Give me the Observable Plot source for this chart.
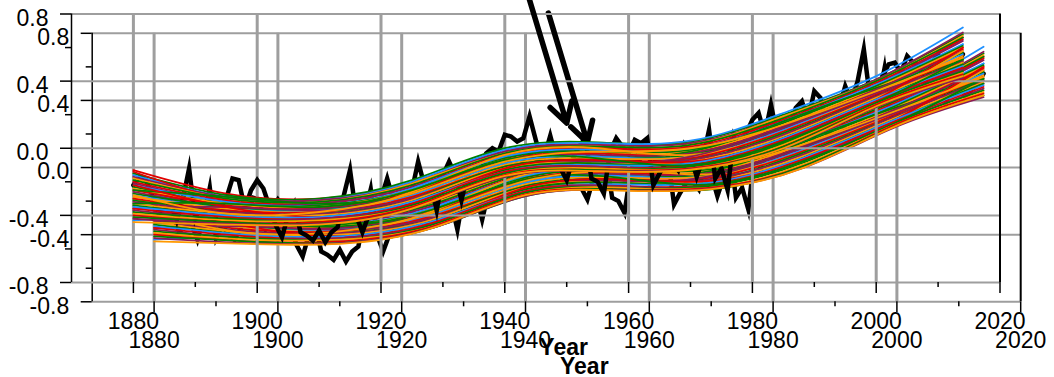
<!DOCTYPE html>
<html><head><meta charset="utf-8">
<script src="https://cdn.jsdelivr.net/npm/d3@7"></script>
<script src="https://cdn.jsdelivr.net/npm/@observablehq/plot@0.6"></script>
<style>
html,body{margin:0;padding:0;background:#fff;}
#chart svg{display:block;}
</style>
</head><body><div id="chart"></div>
<script>
// ---- data ----
const firstYear = 1880;
const anomaly = [
 -0.22,-0.17,-0.19,-0.28,-0.38,-0.36,-0.33,-0.43,-0.30,-0.12,
 -0.42,-0.34,-0.40,-0.43,-0.36,-0.30,-0.18,-0.19,-0.36,-0.25,
 -0.19,-0.24,-0.35,-0.46,-0.53,-0.40,-0.33,-0.50,-0.52,-0.55,
 -0.49,-0.56,-0.50,-0.47,-0.28,-0.13,-0.40,-0.50,-0.40,-0.32,
 -0.30,-0.18,-0.31,-0.30,-0.33,-0.25,-0.08,-0.22,-0.21,-0.37,
 -0.16,-0.08,-0.16,-0.31,-0.15,-0.20,-0.15,-0.03,0.00,-0.02,
 0.08,0.07,0.04,0.06,0.19,0.05,-0.08,-0.10,-0.12,-0.12,
 -0.19,-0.06,0.01,0.06,-0.18,-0.20,-0.27,-0.02,0.06,0.01,
 -0.03,0.05,0.03,0.06,-0.22,-0.15,-0.09,-0.08,-0.13,0.02,
 -0.04,-0.17,-0.06,0.11,-0.18,-0.12,-0.25,0.07,-0.01,0.09,
 0.17,0.21,0.08,0.26,0.08,0.05,0.11,0.24,0.28,0.17,
 0.34,0.30,0.14,0.17,0.24,0.37,0.28,0.40,0.59,0.30,
 0.29,0.43,0.50,0.51,0.45,0.55,0.51,0.49,0.39,0.51,
 0.56,0.42,0.46,0.50,0.56
];
const bundleYears = [1880, 1895, 1910, 1925, 1940, 1955, 1970, 1985, 2000, 2014];
const bundleColors = [
 "#e00000","#008000","#1e90ff","#8b1a55","#e00000","#ff9900","#008000","#e00000","#8b1a55","#1e90ff",
 "#1e90ff","#008000","#ff9900","#e00000","#008000","#8b1a55","#008000","#1e90ff","#ff9900","#ff9900",
 "#e00000","#008000","#8b1a55","#8b1a55","#ff9900","#008000","#e00000","#1e90ff","#e00000","#8b1a55",
 "#008000","#008000","#ff9900","#e00000","#008000","#8b1a55","#ff9900","#ff9900"
];
const bundleValues = [
 [-0.13,-0.27,-0.30,-0.20,-0.02,0.02,0.03,0.17,0.37,0.60],
 [-0.15,-0.28,-0.30,-0.19,0.00,0.035,0.04,0.20,0.41,0.68],
 [-0.16,-0.29,-0.31,-0.20,-0.01,0.03,0.045,0.21,0.43,0.72],
 [-0.17,-0.29,-0.31,-0.21,-0.02,0.02,0.03,0.19,0.41,0.69],
 [-0.14,-0.31,-0.36,-0.27,-0.06,0.00,-0.02,0.12,0.36,0.66],
 [-0.18,-0.30,-0.32,-0.21,-0.03,0.01,0.02,0.19,0.40,0.67],
 [-0.19,-0.30,-0.32,-0.22,-0.03,0.01,0.02,0.18,0.40,0.66],
 [-0.20,-0.31,-0.33,-0.23,-0.04,0.00,0.01,0.17,0.39,0.65],
 [-0.21,-0.32,-0.33,-0.23,-0.05,-0.01,0.00,0.16,0.38,0.64],
 [-0.43,-0.40,-0.36,-0.24,-0.05,-0.04,-0.06,0.08,0.33,0.62],
 [-0.22,-0.32,-0.34,-0.24,-0.05,-0.01,-0.01,0.16,0.38,0.62],
 [-0.23,-0.33,-0.34,-0.25,-0.06,-0.02,-0.01,0.15,0.37,0.61],
 [-0.24,-0.33,-0.35,-0.25,-0.07,-0.03,-0.02,0.14,0.36,0.60],
 [-0.25,-0.34,-0.36,-0.26,-0.07,-0.03,-0.03,0.13,0.35,0.59],
 [-0.25,-0.29,-0.33,-0.28,-0.12,-0.06,-0.02,0.16,0.36,0.52],
 [-0.26,-0.35,-0.36,-0.27,-0.08,-0.04,-0.03,0.13,0.35,0.58],
 [-0.27,-0.35,-0.37,-0.27,-0.09,-0.05,-0.04,0.12,0.34,0.57],
 [-0.28,-0.36,-0.37,-0.28,-0.09,-0.05,-0.05,0.11,0.33,0.56],
 [-0.30,-0.41,-0.40,-0.26,-0.04,0.00,-0.04,0.09,0.30,0.58],
 [-0.29,-0.36,-0.38,-0.29,-0.10,-0.06,-0.05,0.10,0.33,0.55],
 [-0.30,-0.37,-0.38,-0.29,-0.11,-0.07,-0.06,0.10,0.32,0.54],
 [-0.31,-0.38,-0.39,-0.30,-0.11,-0.07,-0.07,0.09,0.31,0.53],
 [-0.36,-0.35,-0.37,-0.30,-0.13,-0.10,-0.05,0.12,0.33,0.50],
 [-0.32,-0.38,-0.39,-0.31,-0.12,-0.08,-0.07,0.08,0.31,0.52],
 [-0.33,-0.39,-0.40,-0.31,-0.12,-0.09,-0.08,0.07,0.30,0.51],
 [-0.34,-0.40,-0.41,-0.32,-0.13,-0.09,-0.09,0.06,0.29,0.50],
 [-0.22,-0.35,-0.41,-0.33,-0.12,-0.07,-0.08,0.05,0.29,0.60],
 [-0.35,-0.40,-0.41,-0.32,-0.14,-0.10,-0.09,0.06,0.29,0.49],
 [-0.36,-0.41,-0.42,-0.33,-0.14,-0.11,-0.10,0.05,0.28,0.48],
 [-0.37,-0.42,-0.42,-0.34,-0.15,-0.11,-0.11,0.04,0.27,0.47],
 [-0.33,-0.33,-0.35,-0.25,-0.07,-0.06,-0.10,0.04,0.27,0.53],
 [-0.38,-0.42,-0.43,-0.34,-0.15,-0.12,-0.11,0.03,0.27,0.46],
 [-0.39,-0.43,-0.43,-0.35,-0.16,-0.12,-0.12,0.02,0.26,0.45],
 [-0.40,-0.44,-0.44,-0.35,-0.16,-0.13,-0.12,0.01,0.26,0.44],
 [-0.41,-0.44,-0.45,-0.36,-0.17,-0.13,-0.13,0.01,0.25,0.43],
 [-0.42,-0.45,-0.45,-0.36,-0.17,-0.135,-0.125,0.00,0.245,0.42],
 [-0.28,-0.39,-0.38,-0.27,-0.08,-0.02,0.00,0.14,0.34,0.54],
 [-0.44,-0.455,-0.455,-0.36,-0.165,-0.137,-0.128,0.00,0.25,0.43]
];
const xDomain = [1870, 2020];
const yDomain = [-0.8, 0.8];
const xLabelYears = [1880, 1900, 1920, 1940, 1960, 1980, 2000, 2020];
const xGridYears = [1880, 1900, 1920, 1940, 1960, 1980, 2000];
const xMinorYears = [1890, 1910, 1930, 1950, 1970, 1990, 2010];
const yMajorTicks = [-0.8, -0.4, 0.0, 0.4, 0.8];
const yMinorTicks = [-0.6, -0.2, 0.2, 0.6];
const arrowStart = {year: 1943.7, value: 0.92};
const arrowEnd = {year: 1950, value: 0.15};
const axisTitle = "Year";
const axisTitleYear = 1949.5;
const copyOffset = [20.7, 19.3];

// ---- tables for the library ----
const series = anomaly.map((v, i) => ({year: firstYear + i, value: v}));
const bundleRows = bundleValues.flatMap((vals, k) =>
  vals.map((v, j) => ({id: k, year: bundleYears[j], value: v, color: bundleColors[k]})));
const arrows = [{x1: arrowStart.year, y1: arrowStart.value, x2: arrowEnd.year, y2: arrowEnd.value}];

function layer(dx, dy) {
  return [
    Plot.ruleY(yMajorTicks, {stroke: "#9e9e9e", strokeWidth: 2, dx, dy}),
    Plot.ruleX(xGridYears, {stroke: "#9e9e9e", strokeWidth: 3, dx, dy}),
    Plot.ruleX([xDomain[0]], {stroke: "#000", strokeWidth: 1.5, dx, dy}),
    Plot.ruleX([xDomain[1]], {stroke: "#000", strokeWidth: 2, dx, dy}),
    Plot.axisY(yMajorTicks, {fill: "none", stroke: "#000", strokeWidth: 1.5, tickSize: 11, label: null, dx, dy}),
    Plot.axisY(yMinorTicks, {fill: "none", stroke: "#000", strokeWidth: 1.5, tickSize: 6, label: null, dx, dy}),
    Plot.axisY(yMajorTicks, {stroke: "none", fill: "#000", tickSize: 11, tickPadding: 12, tickFormat: d => d.toFixed(1), fontSize: 23, label: null, dx, dy: dy + 4.5}),
    Plot.axisX(xLabelYears, {fill: "none", stroke: "#000", strokeWidth: 1.5, tickSize: 11, label: null, dx, dy}),
    Plot.axisX(xMinorYears, {fill: "none", stroke: "#000", strokeWidth: 1.5, tickSize: 5, label: null, dx, dy}),
    Plot.axisX(xLabelYears, {stroke: "none", fill: "#000", tickSize: 11, tickPadding: 19, tickFormat: d => String(d), fontSize: 23, label: null, dx, dy}),
    Plot.line(series, {x: "year", y: "value", stroke: "#000", strokeWidth: 4.5, strokeLinejoin: "miter", strokeMiterlimit: 12, dx, dy}),
    Plot.line(bundleRows, {x: "year", y: "value", z: "id", stroke: "color", strokeWidth: 1.8, curve: "natural", dx, dy}),
    Plot.arrow(arrows, {x1: "x1", y1: "y1", x2: "x2", y2: "y2", stroke: "#000", strokeWidth: 5.5, headLength: 6.2, dx, dy}),
    Plot.text([axisTitle], {x: axisTitleYear, text: d => d, frameAnchor: "bottom", lineAnchor: "top", fontSize: 23, fontWeight: "bold", fill: "#000", dx, dy: dy + 56})
  ];
}

const chart = Plot.plot({
  width: 1054,
  height: 377,
  marginLeft: 71,
  marginRight: 54.5,
  marginTop: 13.5,
  marginBottom: 95,
  x: {domain: xDomain},
  y: {domain: yDomain},
  color: {type: "identity"},
  style: {fontFamily: "'Liberation Sans', Arial, sans-serif", background: "transparent", color: "#000"},
  marks: [
    ...layer(copyOffset[0], copyOffset[1]),
    ...layer(0, 0)
  ]
});
document.getElementById("chart").appendChild(chart);
</script>
</body></html>
